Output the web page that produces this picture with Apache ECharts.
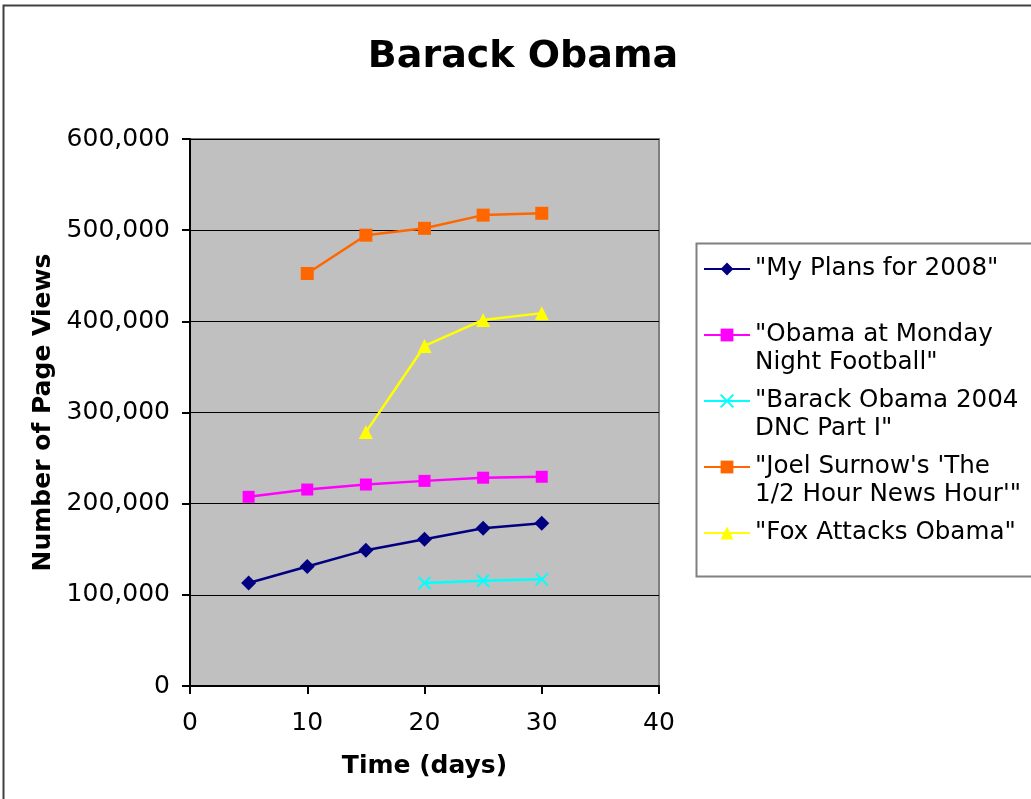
<!DOCTYPE html>
<html>
<head>
<meta charset="utf-8">
<title>Barack Obama</title>
<script src="https://cdn.jsdelivr.net/npm/echarts@6/dist/echarts.min.js"></script>
<style>
  html, body { margin: 0; padding: 0; background: #ffffff; }
  #chart { width: 1031px; height: 799px; }
</style>
</head>
<body>
<div id="chart"></div>
<script>
// Days since upload at which views were counted
const days = [5, 10, 15, 20, 25, 30];

// Page views per video (null = not yet measured)
const myPlans2008     = [113000, 131000, 149000, 161000, 173000, 178500];
const mondayNightFb   = [207500, 215500, 221000, 225000, 228500, 229500];
const dnc2004Part1    = [null, null, null, 113000, 115500, 117000];
const halfHourNews    = [null, 452500, 494500, 502000, 516500, 518500];
const foxAttacks      = [null, null, 278500, 373000, 401500, 409000];

const seriesNames = [
  '"My Plans for 2008"',
  '"Obama at Monday Night Football"',
  '"Barack Obama 2004 DNC Part I"',
  '"Joel Surnow\'s \'The 1/2 Hour News Hour\'"',
  '"Fox Attacks Obama"'
];

// Legend labels wrapped onto two lines
const legendLines = {
  [seriesNames[0]]: ['"My Plans for 2008"', ' '],
  [seriesNames[1]]: ['"Obama at Monday', 'Night Football"'],
  [seriesNames[2]]: ['"Barack Obama 2004', 'DNC Part I"'],
  [seriesNames[3]]: ['"Joel Surnow\'s \'The', '1/2 Hour News Hour\'"'],
  [seriesNames[4]]: ['"Fox Attacks Obama"', ' ']
};

const FONT = '"DejaVu Sans", Verdana, sans-serif';
const pairs = vals => days.map((d, i) => [d, vals[i]]);

const chart = echarts.init(document.getElementById('chart'), null, { renderer: 'canvas' });

function lineSeries(name, vals, color, symbol, size, extra) {
  return Object.assign({
    name: name,
    type: 'line',
    data: pairs(vals),
    connectNulls: false,
    symbol: symbol,
    symbolSize: size,
    showAllSymbol: true,
    lineStyle: { color: color, width: 2.5 },
    itemStyle: { color: color },
    emphasis: { disabled: true },
    animation: false,
    z: 3
  }, extra || {});
}

const option = {
  backgroundColor: '#ffffff',
  animation: false,
  title: {
    text: 'Barack Obama',
    left: 518,
    textAlign: 'center',
    top: 33,
    textStyle: { fontFamily: FONT, fontWeight: 'bold', fontSize: 38, color: '#000' }
  },
  graphic: [
    // outer frame of the chart
    {
      type: 'rect', silent: true, z: -10,
      shape: { x: 3.5, y: 5.5, width: 1060, height: 830 },
      style: { fill: 'none', stroke: '#404040', lineWidth: 2 }
    },
    // legend box
    {
      type: 'rect', silent: true, z: -5,
      shape: { x: 696.5, y: 243.5, width: 360, height: 333 },
      style: { fill: '#ffffff', stroke: '#808080', lineWidth: 2 }
    }
  ],
  grid: {
    left: 190, right: 372, top: 139, bottom: 113,
    show: true,
    backgroundColor: '#C0C0C0',
    borderColor: '#808080',
    borderWidth: 2
  },
  legend: {
    orient: 'vertical',
    left: 703,
    top: 227,
    padding: 0,
    itemGap: -18,
    itemWidth: 46,
    itemHeight: 16,
    data: seriesNames,
    // a blank leading line keeps the icon level with the first line of text
    formatter: name => ' \n' + legendLines[name].join('\n'),
    textStyle: {
      fontFamily: FONT, fontSize: 24.6, color: '#000', lineHeight: 28
    }
  },
  xAxis: {
    type: 'value',
    min: 0, max: 40, interval: 10,
    name: 'Time (days)',
    nameLocation: 'middle',
    nameGap: 68,
    nameTextStyle: { fontFamily: FONT, fontWeight: 'bold', fontSize: 25, color: '#000' },
    axisLine: { show: true, onZero: false, lineStyle: { color: '#000', width: 2 } },
    axisTick: { show: true, inside: false, length: 8, lineStyle: { color: '#000', width: 2 } },
    axisLabel: { fontFamily: FONT, fontSize: 25, color: '#000', margin: 25 },
    splitLine: { show: false }
  },
  yAxis: {
    type: 'value',
    min: 0, max: 600000, interval: 100000,
    name: 'Number of Page Views',
    nameLocation: 'middle',
    nameGap: 134,
    nameRotate: 90,
    nameTextStyle: { fontFamily: FONT, fontWeight: 'bold', fontSize: 25, color: '#000' },
    axisLine: { show: true, onZero: false, lineStyle: { color: '#000', width: 2 } },
    axisTick: { show: true, inside: false, length: 8, lineStyle: { color: '#000', width: 2 } },
    axisLabel: {
      fontFamily: FONT, fontSize: 25, color: '#000', margin: 20,
      formatter: v => v.toLocaleString('en-US')
    },
    splitLine: { show: true, lineStyle: { color: '#000', width: 1.2 } }
  },
  series: [
    lineSeries(seriesNames[0], myPlans2008, '#000080', 'diamond', 15),
    lineSeries(seriesNames[1], mondayNightFb, '#FF00FF', 'rect', 12),
    lineSeries(seriesNames[2], dnc2004Part1, '#00FFFF', 'path://M0,0L10,10M10,0L0,10', 12, {
      itemStyle: { color: 'none', borderColor: '#00FFFF', borderWidth: 2 }
    }),
    lineSeries(seriesNames[3], halfHourNews, '#FF6600', 'rect', 13),
    lineSeries(seriesNames[4], foxAttacks, '#FFFF00', 'triangle', 14)
  ]
};

chart.setOption(option);
</script>
</body>
</html>
